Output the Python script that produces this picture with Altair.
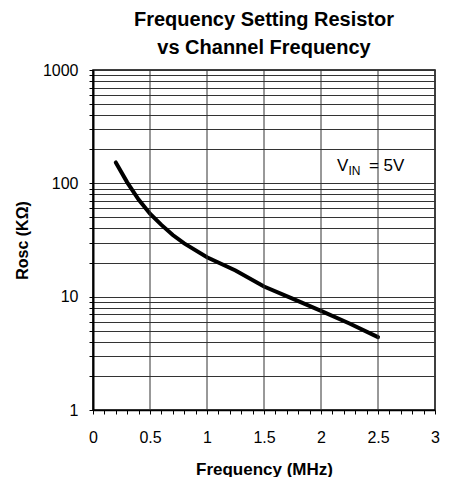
import altair as alt
import pandas as pd

# Curve data
freq_mhz = [0.2, 0.3, 0.4, 0.5, 0.6, 0.7, 0.8, 1.0, 1.25, 1.5, 1.75, 2.0, 2.25, 2.5]
rosc_k = [153, 102, 72, 54, 43, 35, 29.5, 22.3, 17, 12.3, 9.6, 7.5, 5.8, 4.4]

y_ticks = [1, 2, 3, 4, 5, 6, 7, 8, 9, 10, 20, 30, 40, 50, 60, 70, 80, 90,
           100, 200, 300, 400, 500, 600, 700, 800, 900, 1000]
x_ticks = [round(i * 0.1, 1) for i in range(31)]
x_grid = [0.5, 1.0, 1.5, 2.0, 2.5]

ann_x = [2.14]
ann_y = [143]

FONT = "Liberation Sans"

curve_df = pd.DataFrame({"f": freq_mhz, "r": rosc_k})
grid_df = pd.DataFrame({"f": x_grid})
ann_df = pd.DataFrame({"f": ann_x, "r": ann_y})

xscale = alt.Scale(domain=[0, 3], nice=False, zero=False)
yscale = alt.Scale(type="log", domain=[1, 1000], nice=False)

xaxis = alt.Axis(
    values=x_ticks,
    format=".1~f",
    labelExpr="abs(datum.value*2 - round(datum.value*2)) < 0.001 ? datum.label : ''",
    labelOverlap=False,
    labelFlush=False,
    grid=False,
    tickSize=4,
    tickColor="black",
    domainColor="black",
    domainWidth=1.5,
    labelFont=FONT,
    labelFontSize=16,
    labelColor="black",
    labelPadding=15,
    title="Frequency (MHz)",
    titleFont=FONT,
    titleFontSize=17,
    titleFontWeight="bold",
    titleColor="black",
    titlePadding=16,
)
yaxis = alt.Axis(
    values=y_ticks,
    labelExpr="(datum.value==1||datum.value==10||datum.value==100||datum.value==1000) ? datum.value : ''",
    labelOverlap=False,
    labelFlush=False,
    grid=True,
    gridColor="#333333",
    gridWidth=1,
    tickSize=4,
    tickColor="black",
    domainColor="black",
    domainWidth=2,
    labelFont=FONT,
    labelFontSize=16,
    labelColor="black",
    labelPadding=11,
    title="Rosc (KΩ)",
    titleFont=FONT,
    titleFontSize=16,
    titleFontWeight="bold",
    titleColor="black",
    titlePadding=12,
)

X = alt.X("f:Q", scale=xscale, axis=xaxis, title="Frequency (MHz)")
Y = alt.Y("r:Q", scale=yscale, axis=yaxis, title="Rosc (KΩ)")

base_line = alt.Chart(curve_df).mark_line(color="black", strokeWidth=4, strokeCap="round").encode(x=X, y=Y)

vgrid = alt.Chart(grid_df).mark_rule(color="#333333", strokeWidth=1).encode(x=X)

t_v = alt.Chart(ann_df).mark_text(text="V", font=FONT, fontSize=17, align="left", baseline="middle").encode(x=X, y=Y)
t_in = alt.Chart(ann_df).mark_text(text="IN", font=FONT, fontSize=12, align="left", baseline="middle", dx=11.5, dy=5).encode(x=X, y=Y)
t_eq = alt.Chart(ann_df).mark_text(text="= 5V", font=FONT, fontSize=17, align="left", baseline="middle", dx=32).encode(x=X, y=Y)

chart = alt.layer(base_line, vgrid, t_v, t_in, t_eq).properties(
    width=342,
    height=340,
    autosize=alt.AutoSizeParams(type="none"),
    padding={"left": 85, "top": 62, "right": 6, "bottom": 67},
    title=alt.TitleParams(
        text=["Frequency Setting Resistor", "vs Channel Frequency"],
        font=FONT,
        fontSize=20,
        fontWeight="bold",
        color="black",
        anchor="middle",
        lineHeight=28,
        offset=4,
    ),
).configure(background="white").configure_view(stroke="black", strokeWidth=1.5)

chart.save("out.html", embed_options={"renderer": "svg", "actions": False})
